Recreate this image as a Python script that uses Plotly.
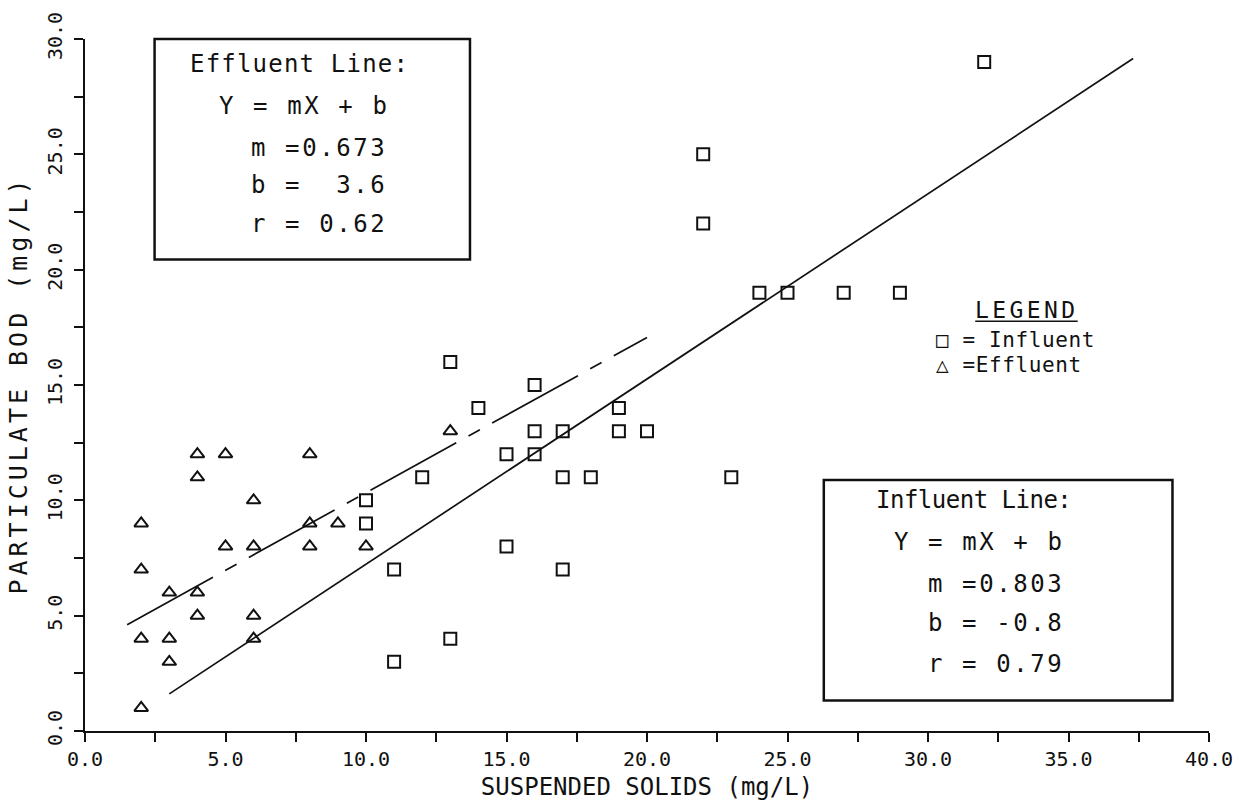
import plotly.graph_objects as go

# ---------------- data ----------------
influent_x = [10, 10, 11, 11, 12, 13, 13, 14, 15, 15, 16, 16, 16, 17, 17, 17, 18, 19, 19, 20,
              22, 22, 23, 24, 25, 27, 29, 32]
influent_y = [10, 9, 7, 3, 11, 16, 4, 14, 12, 8, 15, 13, 12, 13, 11, 7, 11, 14, 13, 13,
              25, 22, 11, 19, 19, 19, 19, 29]

effluent_x = [2, 2, 2, 2, 3, 3, 3, 4, 4, 4, 4, 5, 5, 6, 6, 6, 6, 8, 8, 8, 9, 10, 13]
effluent_y = [9, 7, 4, 1, 6, 4, 3, 12, 11, 6, 5, 12, 8, 10, 8, 5, 4, 12, 9, 8, 9, 8, 13]

# regression lines (from the printed equations)
influent_m, influent_b = 0.803, -0.8
effluent_m, effluent_b = 0.673, 3.6
influent_line_x = [3.0, 37.3]
effluent_line_x = [1.5, 20.0]

x_tick_vals = [0, 5, 10, 15, 20, 25, 30, 35, 40]
x_tick_text = ["0.0", "5.0", "10.0", "15.0", "20.0", "25.0", "30.0", "35.0", "40.0"]
y_tick_vals = [0, 5, 10, 15, 20, 25, 30]
y_tick_text = ["0.0", "5.0", "10.0", "15.0", "20.0", "25.0", "30.0"]

FONT = "DejaVu Sans Mono"
BLACK = "#111111"

fig = go.Figure()

fig.add_trace(go.Scatter(
    x=influent_line_x,
    y=[influent_m * v + influent_b for v in influent_line_x],
    mode="lines", line=dict(color=BLACK, width=1.7), showlegend=False, hoverinfo="skip"))

fig.add_trace(go.Scatter(
    x=effluent_line_x,
    y=[effluent_m * v + effluent_b for v in effluent_line_x],
    mode="lines", line=dict(color=BLACK, width=1.7, dash="98px,14px,13px,14px"),
    showlegend=False, hoverinfo="skip"))

fig.add_trace(go.Scatter(
    x=influent_x, y=influent_y, mode="markers", name="Influent",
    marker=dict(symbol="square-open", size=12, color=BLACK, line=dict(width=2, color=BLACK)),
    showlegend=False))

fig.add_trace(go.Scatter(
    x=effluent_x, y=effluent_y, mode="markers", name="Effluent",
    marker=dict(symbol="triangle-up-open", size=12, color=BLACK, line=dict(width=2, color=BLACK)),
    showlegend=False))


def sp(text, ls):
    return f"<span style='letter-spacing:{ls}px'>{text}</span>"


annotations = []
# Effluent box text
eff_lines = [
    (0.0912, 0.9643, "Effluent Line:", 1.2),
    (0.1177, 0.9030, "Y = mX + b", 2.6),
    (0.1460, 0.8431, "m =0.673", 2.6),
    (0.1460, 0.7889, "b =  3.6", 2.6),
    (0.1460, 0.7332, "r = 0.62", 2.6),
]
inf_lines = [
    (0.7018, 0.3342, "Influent Line:", -0.5),
    (0.7180, 0.2725, "Y = mX + b", 2.6),
    (0.7478, 0.2130, "m =0.803", 2.6),
    (0.7478, 0.1559, "b = -0.8", 2.6),
    (0.7478, 0.0966, "r = 0.79", 2.6),
]
for (x, y, t, ls) in eff_lines + inf_lines:
    annotations.append(dict(
        x=x, y=y, xref="paper", yref="paper", xanchor="left", yanchor="middle",
        text=sp(t, ls), showarrow=False,
        font=dict(family=FONT, size=24, color=BLACK)))

# legend text
annotations.append(dict(x=0.8376, y=0.6091, xref="paper", yref="paper",
                        xanchor="center", yanchor="middle", showarrow=False,
                        text=sp("LEGEND", 3.4), font=dict(family=FONT, size=23, color=BLACK)))
annotations.append(dict(x=0.7566, y=0.5649, xref="paper", yref="paper",
                        xanchor="left", yanchor="middle", showarrow=False, borderpad=0,
                        text=sp("□ = Influent", 0.6), font=dict(family=FONT, size=21, color=BLACK)))
annotations.append(dict(x=0.7566, y=0.5292, xref="paper", yref="paper",
                        xanchor="left", yanchor="middle", showarrow=False, borderpad=0,
                        text=sp("△ =Effluent", 0.6), font=dict(family=FONT, size=21, color=BLACK)))

shapes = [
    dict(type="rect", xref="paper", yref="paper", x0=0.0619, x1=0.3425, y0=0.6815, y1=1.0,
         line=dict(color=BLACK, width=2.5)),
    dict(type="rect", xref="paper", yref="paper", x0=0.6573, x1=0.9675, y0=0.0442, y1=0.3628,
         line=dict(color=BLACK, width=2.5)),
    dict(type="line", xref="paper", yref="paper", x0=0.792, x1=0.8832, y0=0.5920, y1=0.5920,
         line=dict(color=BLACK, width=1.5)),
]

fig.update_layout(
    width=1245, height=810,
    margin=dict(l=85, r=30, t=30, b=79),
    paper_bgcolor="white", plot_bgcolor="white",
    font=dict(family=FONT, color=BLACK),
    annotations=annotations, shapes=shapes,
    showlegend=False,
    xaxis=dict(
        range=[0, 40], showgrid=False, zeroline=False,
        showline=True, linecolor=BLACK, linewidth=2, mirror=False,
        tickmode="array", tickvals=x_tick_vals, ticktext=x_tick_text,
        ticks="outside", ticklen=9, tickwidth=1.5, tickcolor=BLACK,
        minor=dict(dtick=2.5, ticks="outside", ticklen=9, tickwidth=1.5, tickcolor=BLACK),
        tickfont=dict(family=FONT, size=20, color=BLACK),
        title=dict(text="SUSPENDED SOLIDS (mg/L)",
                   font=dict(family=FONT, size=24, color=BLACK), standoff=8),
    ),
    yaxis=dict(
        range=[0, 30], showgrid=False, zeroline=False,
        showline=True, linecolor=BLACK, linewidth=2, mirror=False,
        tickmode="array", tickvals=y_tick_vals, ticktext=y_tick_text,
        ticks="outside", ticklen=9, tickwidth=1.5, tickcolor=BLACK,
        minor=dict(dtick=2.5, ticks="outside", ticklen=9, tickwidth=1.5, tickcolor=BLACK),
        tickangle=-90, ticklabelstandoff=4,
        tickfont=dict(family=FONT, size=20, color=BLACK),
        title=dict(text=sp("PARTICULATE BOD (mg/L)", 4),
                   font=dict(family=FONT, size=25, color=BLACK), standoff=8),
    ),
)

fig.write_html("out.html")
